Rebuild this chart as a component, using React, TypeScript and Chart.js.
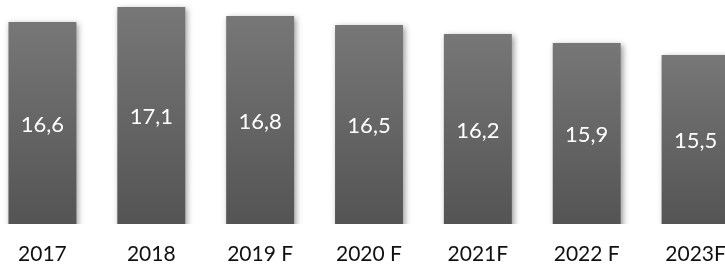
import React, { useEffect, useRef } from "react";
import { Chart, registerables } from "chart.js";

Chart.register(...registerables);

const categories = ["2017", "2018", "2019 F", "2020 F", "2021F", "2022 F", "2023F"];
const values = [16.6, 17.1, 16.8, 16.5, 16.2, 15.9, 15.5];
const valueLabels = ["16,6", "17,1", "16,8", "16,5", "16,2", "15,9", "15,5"];

const FONT = "Lato, 'Open Sans', sans-serif";

const shadowPlugin = {
  id: "barShadow",
  beforeDatasetsDraw(chart: any) {
    const ctx = chart.ctx;
    ctx.save();
    ctx.shadowColor = "rgba(0,0,0,0.4)";
    ctx.shadowBlur = 6;
    ctx.shadowOffsetX = 2;
    ctx.shadowOffsetY = 2;
  },
  afterDatasetsDraw(chart: any) {
    chart.ctx.restore();
  },
};

const labelPlugin = {
  id: "barLabels",
  afterDraw(chart: any) {
    const ctx = chart.ctx;
    const meta = chart.getDatasetMeta(0);
    const ys = chart.scales.y;
    ctx.save();
    ctx.shadowColor = "rgba(0,0,0,0)";
    ctx.shadowBlur = 0;
    ctx.fillStyle = "#ffffff";
    ctx.font = "22px Lato, sans-serif";
    ctx.textAlign = "center";
    ctx.textBaseline = "middle";
    meta.data.forEach((bar: any, i: number) => {
      const top = ys.getPixelForValue(values[i]);
      const bottom = ys.bottom;
      const mid = (top + bottom) / 2 + 1.5;
      ctx.fillText(valueLabels[i], bar.x, mid);
    });
    ctx.restore();
  },
};

export default function App() {
  const ref = useRef<HTMLCanvasElement | null>(null);
  useEffect(() => {
    if (!ref.current) return;
    const chart = new Chart(ref.current, {
      type: "bar",
      data: {
        labels: categories,
        datasets: [
          {
            data: values,
            backgroundColor: (c: any) => {
              const ch = c.chart;
              const ys = ch.scales?.y;
              if (!ch.chartArea || !ys || c.raw === undefined) return "#666666";
              const top = ys.getPixelForValue(c.raw);
              const bottom = ys.getPixelForValue(ys.min);
              if (!isFinite(top) || !isFinite(bottom)) return "#666666";
              const g = ch.ctx.createLinearGradient(0, top, 0, bottom);
              g.addColorStop(0, "#777777");
              g.addColorStop(1, "#545454");
              return g;
            },
            borderWidth: 0,
            categoryPercentage: 1,
            barPercentage: 0.624,
          },
        ],
      },
      options: {
        animation: false,
        responsive: true,
        maintainAspectRatio: false,
        layout: { padding: 0 },
        plugins: { legend: { display: false }, tooltip: { enabled: false } },
        scales: {
          x: {
            grid: { display: false, drawTicks: false },
            border: { display: false },
            ticks: {
              color: "#111111",
              font: { family: FONT, size: 21 },
              padding: 18,
              maxRotation: 0,
              autoSkip: false,
            },
            afterFit: (scale: any) => {
              scale.height = 43;
            },
          },
          y: {
            display: false,
            min: 9.87,
            max: 17.333,
          },
        },
      },
      plugins: [shadowPlugin, labelPlugin],
    });
    return () => chart.destroy();
  }, []);
  return (
    <div style={{ position: "fixed", left: 0, top: 0, width: 725, height: 267, overflow: "hidden", background: "#fff" }}>
      <div style={{ position: "absolute", left: -12, top: 0, width: 762, height: 267 }}>
        <canvas ref={ref} />
      </div>
    </div>
  );
}
